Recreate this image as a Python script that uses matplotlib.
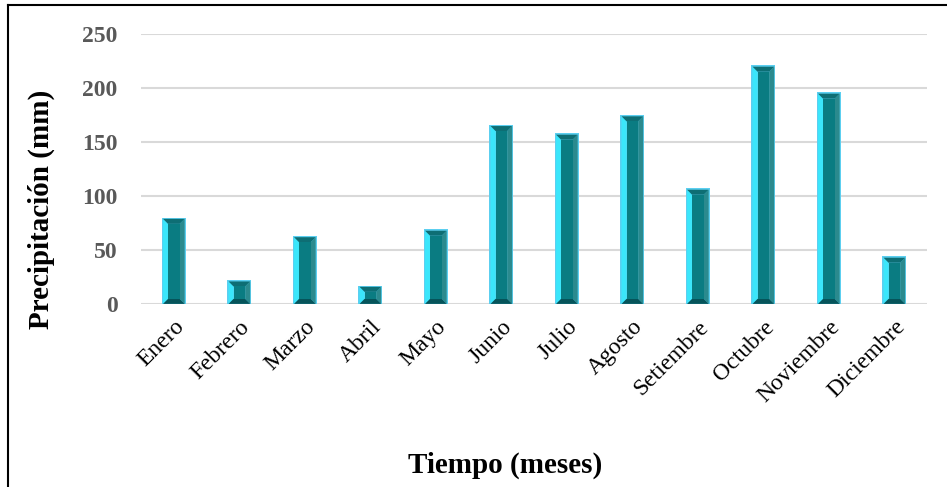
import numpy as np
import matplotlib.pyplot as plt
from matplotlib.patches import Polygon
from matplotlib.lines import Line2D

plt.rcParams['font.family'] = ['Liberation Serif', 'DejaVu Serif']

meses = ['Enero', 'Febrero', 'Marzo', 'Abril', 'Mayo', 'Junio', 'Julio',
         'Agosto', 'Setiembre', 'Octubre', 'Noviembre', 'Diciembre']
precip = [80, 22, 63, 17, 69, 166, 158, 175, 107, 221, 196, 44]
yticks = [0, 50, 100, 150, 200, 250]

fig = plt.figure(figsize=(9.47, 4.87), dpi=100)
ax = fig.add_axes([0.149, 0.376, 0.830, 0.554])

x = np.arange(len(meses))
w = 0.37
ax.set_xlim(-0.5, len(meses) - 0.5)
ax.set_ylim(0, 250)

for y in yticks:
    ax.axhline(y, color='#d9d9d9', lw=1.5, zorder=0)

# outer rim of each bar
bars = ax.bar(x, precip, width=w, color='#5ccff0', zorder=2)

# bevel faces, inset given in pixels
fig.canvas.draw()
px_x = (ax.transData.transform((1, 0))[0] - ax.transData.transform((0, 0))[0])
px_y = (ax.transData.transform((0, 1))[1] - ax.transData.transform((0, 0))[1])
rim_x, rim_y = 1.3 / px_x, 1.3 / px_y
dx, dy = 5.0 / px_x, 5.0 / px_y

for b in bars:
    x0 = b.get_x() + rim_x
    x1 = b.get_x() + b.get_width() - rim_x
    y0 = 0
    y1 = b.get_height() - rim_y
    d_y = min(dy, (y1 - y0) / 2.5)
    ix0, ix1 = x0 + dx, x1 - dx
    iy0, iy1 = y0 + d_y, y1 - d_y
    faces = [
        ([(x0, y0), (ix0, iy0), (ix0, iy1), (x0, y1)], '#3be6fb'),   # left
        ([(x1, y0), (x1, y1), (ix1, iy1), (ix1, iy0)], '#2b8a8e'),   # right
        ([(x0, y1), (ix0, iy1), (ix1, iy1), (x1, y1)], '#0e6e74'),   # top
        ([(x0, y0), (x1, y0), (ix1, iy0), (ix0, iy0)], '#06545a'),   # bottom
        ([(ix0, iy0), (ix1, iy0), (ix1, iy1), (ix0, iy1)], '#0a7c82'),  # face
    ]
    for pts, c in faces:
        ax.add_patch(Polygon(pts, closed=True, facecolor=c, edgecolor='none', zorder=3))

for s in ax.spines.values():
    s.set_visible(False)
ax.tick_params(length=0)

ax.set_yticks(yticks)
ax.set_yticklabels([str(v) for v in yticks], fontsize=17, fontweight='bold', color='#595959')
ax.tick_params(axis='y', pad=17)

ax.set_xticks(x)
ax.set_xticklabels(meses, fontsize=17, rotation=45, ha='right', va='top',
                   rotation_mode='anchor')
ax.tick_params(axis='x', pad=9)

ax.set_ylabel('Precipitación (mm)', fontsize=21, fontweight='bold')
ax.yaxis.set_label_coords(-0.110, 0.35)
fig.text(0.533, 0.045, 'Tiempo (meses)', fontsize=21, fontweight='bold',
         ha='center', va='center')

# outer chart frame
fig.add_artist(Line2D([8 / 947, 8 / 947], [0, 1 - 5 / 487], color='black', lw=1.5,
                      transform=fig.transFigure))
fig.add_artist(Line2D([8 / 947, 1], [1 - 5 / 487, 1 - 5 / 487], color='black', lw=1.5,
                      transform=fig.transFigure))

fig.savefig('out.png', dpi=100)
